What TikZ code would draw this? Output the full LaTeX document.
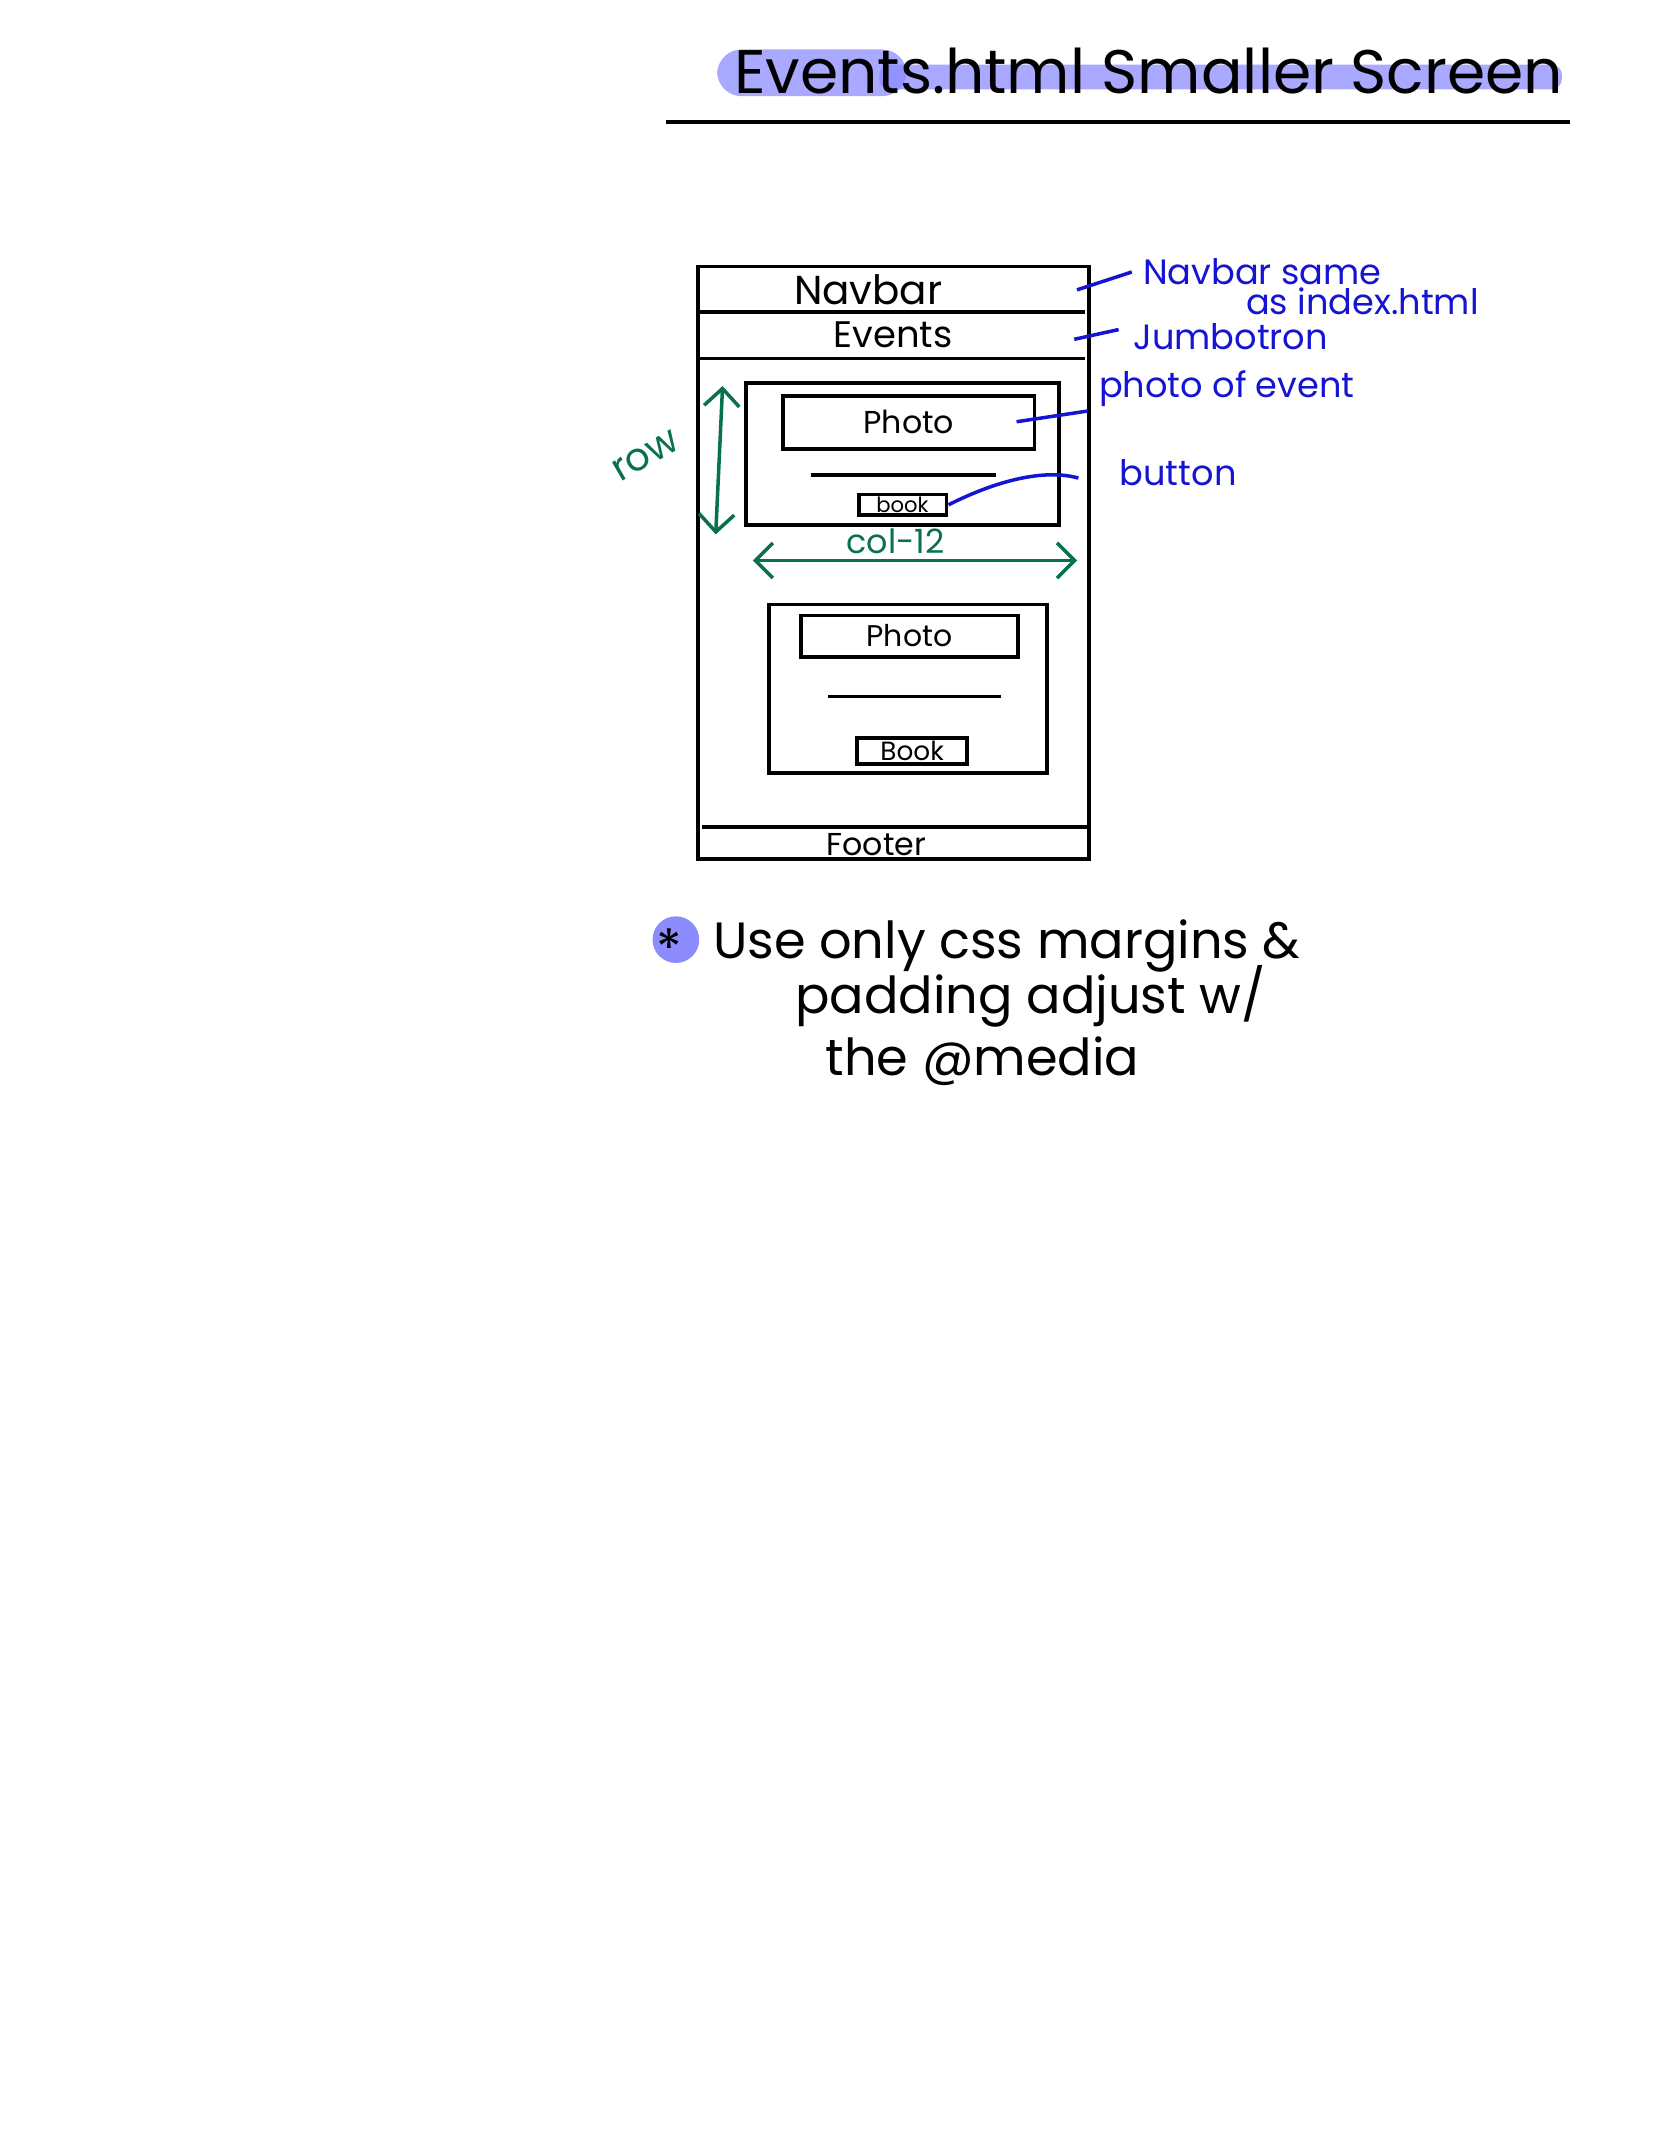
\documentclass[tikz,border=0pt]{standalone}
\usepackage{fontspec}
\setmainfont{Poppins}
\usepackage{tikz}
\usetikzlibrary{arrows.meta,positioning}
\definecolor{notegreen}{RGB}{10,112,82}
\definecolor{noteblue}{RGB}{20,20,210}
\colorlet{marker}{blue!45!white}

\begin{document}
\begin{tikzpicture}[x=0.01374cm, y=-0.01374cm,
    frame/.style={line width=1.1pt},
    boxnode/.style={draw, line width=1.1pt, inner sep=0pt},
    anno/.style={noteblue, font=\fontsize{10}{12}\selectfont, inner sep=1pt, anchor=west},
    lead/.style={noteblue, line width=1pt},
    dim/.style={notegreen, line width=1pt, {Straight Barb[length=5pt,width=10pt]}-{Straight Barb[length=5pt,width=10pt]}}]
      \useasboundingbox (0,0) rectangle (1214,1568);
      % Title with marker highlight
      \fill[marker, fill opacity=0.75, rounded corners=7pt] (522,36) rectangle (660,70);
      \fill[marker, fill opacity=0.75, rounded corners=3pt] (640,47) rectangle (1137,65);
      \node[font=\fontsize{17.5}{21}\selectfont, anchor=base] (title) at (836,68) {Events.html Smaller Screen};
      \draw[line width=1.2pt] (485,89) -- (1143,89);
      % Phone frame
      \draw[frame] (508,194) rectangle (793,625);
      \draw[frame] (508,227) -- (790,227);
      \draw[frame] (508,261) -- (790,261);
      \draw[frame] (511,602) -- (792,602);
      \node[font=\fontsize{11.5}{14}\selectfont] (navbar) at (632,211) {Navbar};
      \node[font=\fontsize{10.5}{13}\selectfont] (events) at (650,244) {Events};
      \node[font=\fontsize{9}{11}\selectfont, anchor=base] (footer) at (638,623) {Footer};
      % Card 1
      \draw[frame] (543,279) rectangle (771,382);
      \node[boxnode, minimum width=2.514cm, minimum height=0.536cm, font=\fontsize{9}{11}\selectfont] (photoA) at (661.5,307.5) {Photo};
      \draw[frame] (590,346) -- (725,346);
      \node[boxnode, minimum width=0.879cm, minimum height=0.206cm, font=\fontsize{6}{7}\selectfont] (bookA) at (657,367.5) {book};
      % Card 2
      \draw[frame] (560,440) rectangle (762,563);
      \node[boxnode, minimum width=2.171cm, minimum height=0.412cm, font=\fontsize{8.5}{10}\selectfont] (photoB) at (662,463) {Photo};
      \draw[frame] (603,507) -- (729,507);
      \node[boxnode, minimum width=1.099cm, minimum height=0.261cm, font=\fontsize{7.5}{9}\selectfont] (bookB) at (664,546.5) {Book};
      % Grid notes
      \coordinate (rowtop) at (526,281);
      \coordinate (rowbot) at (521,389);
      \draw[dim] (rowbot) -- (rowtop);
      \node[notegreen, rotate=30, font=\fontsize{11}{13}\selectfont] (rowlbl) at (470,332) {row};
      \coordinate (colL) at (548,408);
      \coordinate (colR) at (784,408);
      \draw[dim] (colL) -- (colR);
      \node[notegreen, font=\fontsize{9.5}{11}\selectfont, anchor=base] (collbl) at (652,403) {col-12};
      % Annotations
      \node[anno] (navlbl) at (829,198) {Navbar same};
      \node[anno] (navlbl2) at (904,219) {as index.html};
      \node[anno] (jumbolbl) at (822,245) {Jumbotron};
      \node[anno] (photolbl) at (797,283) {photo of event};
      \node[anno] (buttonlbl) at (812,344) {button};
      \coordinate (navtip) at (784,211);
      \coordinate (jumbotip) at (782,247);
      \coordinate (phototip) at (740,307);
      \coordinate (buttonend) at (785,348);
      \draw[lead] (navtip) -- ([xshift=-2pt]navlbl.west);
      \draw[lead] (jumbotip) -- ([xshift=-3pt,yshift=2pt]jumbolbl.west);
      \draw[lead] (phototip) -- ([xshift=-2pt]photolbl.south west);
      \draw[lead] (bookA.east) .. controls (725,350) and (760,341) .. (buttonend);
      % Note on media queries
      \fill[marker] (492,684) circle (17);
      \node[font=\fontsize{15}{18}\selectfont, inner sep=0pt] (star) at (487,690) {*};
      \node[font=\fontsize{14.5}{17}\selectfont, anchor=base west] (noteA) at (510,698) {Use only css margins \&};
      \node[font=\fontsize{14.5}{17}\selectfont, anchor=base west] (noteB) at (570,738) {padding adjust w/};
      \node[font=\fontsize{14.5}{17}\selectfont, anchor=base west] (noteC) at (592,783) {the @media};
\end{tikzpicture}
\end{document}
